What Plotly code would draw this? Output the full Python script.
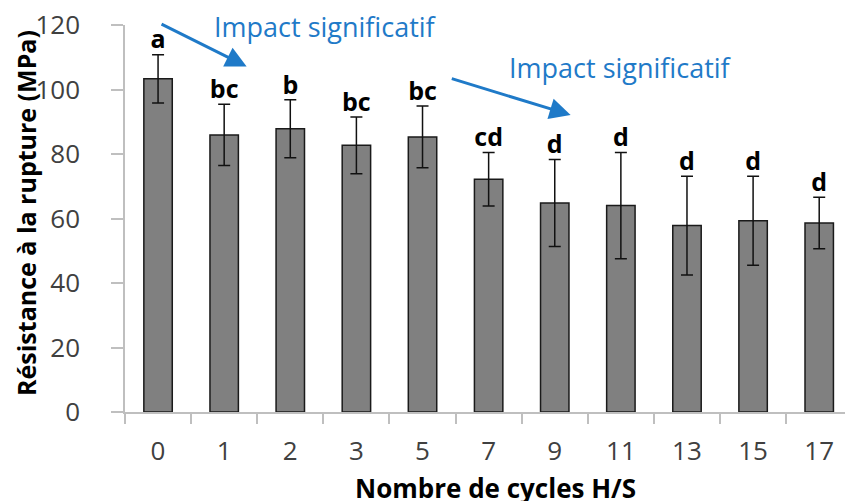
import plotly.graph_objects as go

cycles = ["0", "1", "2", "3", "5", "7", "9", "11", "13", "15", "17"]
resistance = [103.3, 85.9, 87.8, 82.7, 85.3, 72.2, 64.8, 64.0, 57.8, 59.3, 58.6]
error = [7.5, 9.5, 9.0, 8.8, 9.6, 8.3, 13.5, 16.5, 15.3, 13.8, 8.0]
groups = ["a", "bc", "b", "bc", "bc", "cd", "d", "d", "d", "d", "d"]

y_ticks = [0, 20, 40, 60, 80, 100, 120]

FONT = "Open Sans"
BLUE = "#1f7ac8"

fig = go.Figure()

fig.add_trace(go.Bar(
    x=cycles, y=resistance,
    marker=dict(color="#808080", line=dict(color="#1a1a1a", width=1.5)),
    width=0.43,
    error_y=dict(type="data", array=error, visible=True, color="#111111",
                 thickness=1.5, width=6),
    showlegend=False, hoverinfo="skip",
))

fig.add_trace(go.Scatter(
    x=cycles, y=[v + e for v, e in zip(resistance, error)],
    mode="text", text=groups, textposition="top center",
    textfont=dict(family=FONT, size=25, color="#000000", weight="bold"),
    showlegend=False, hoverinfo="skip", cliponaxis=False,
))

# arrows with text
fig.add_annotation(x=1.34, y=107.1, ax=0.03, ay=120.5, xref="x", yref="y",
                   axref="x", ayref="y", showarrow=True, arrowhead=2,
                   arrowsize=1.4, arrowwidth=3, arrowcolor=BLUE, text="")
fig.add_annotation(x=6.24, y=92.1, ax=4.42, ay=103.5, xref="x", yref="y",
                   axref="x", ayref="y", showarrow=True, arrowhead=2,
                   arrowsize=1.4, arrowwidth=3, arrowcolor=BLUE, text="")
fig.add_annotation(x=2.53, y=119.4, xref="x", yref="y", showarrow=False,
                   text="Impact significatif",
                   font=dict(family=FONT, size=27, color=BLUE))
fig.add_annotation(x=7.0, y=106.7, xref="x", yref="y", showarrow=False,
                   text="Impact significatif",
                   font=dict(family=FONT, size=27, color=BLUE))

# axis titles
fig.add_annotation(x=-0.1368, y=0.513, xref="paper", yref="paper",
                   xanchor="center", yanchor="middle",
                   showarrow=False, textangle=-90,
                   text="Résistance à la rupture (MPa)",
                   font=dict(family=FONT, size=25, color="#000000", weight="bold"))
fig.add_annotation(x=0.515, y=-0.196, xref="paper", yref="paper",
                   xanchor="center", yanchor="middle", showarrow=False,
                   text="Nombre de cycles H/S",
                   font=dict(family=FONT, size=26, color="#000000", weight="bold"))

fig.update_layout(
    width=845, height=501,
    margin=dict(l=125, r=0, t=25, b=89),
    plot_bgcolor="white", paper_bgcolor="white",
    font=dict(family=FONT),
)
fig.update_xaxes(
    type="category", range=[-0.5, 10.39],
    showline=True, linecolor="#bfbfbf", linewidth=1.5,
    ticks="outside", tickson="boundaries", ticklen=10, tickcolor="#bfbfbf",
    tickwidth=1.5,
    tickfont=dict(family=FONT, size=26, color="#404040"),
    ticklabelstandoff=15,
    showgrid=False,
)
fig.update_yaxes(
    range=[0, 120], tickvals=y_ticks,
    showline=True, linecolor="#bfbfbf", linewidth=1.5,
    ticks="outside", ticklen=12, tickcolor="#bfbfbf", tickwidth=1.5,
    tickfont=dict(family=FONT, size=26, color="#404040"),
    ticklabelstandoff=26,
    showgrid=False, zeroline=False,
)

fig.write_html("out.html", post_script="document.body.style.margin='0';",
               config={"displayModeBar": False})
